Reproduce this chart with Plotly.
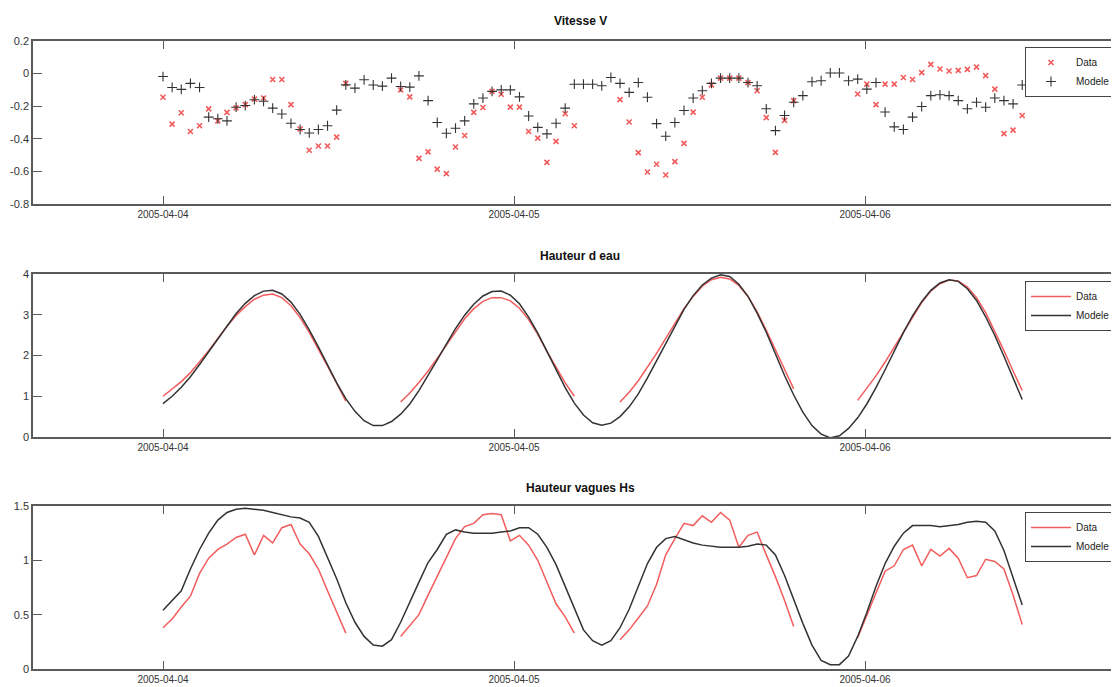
import pandas as pd
import plotly.graph_objects as go

N = None
# sampling grid (95 samples, every 37.5 minutes from 2005-04-04 00:00)
times = pd.date_range("2005-04-04 00:00", periods=95, freq="37min30s")

tick_dates = ["2005-04-04", "2005-04-05", "2005-04-06"]

# ---- Vitesse V ----
v_data = [-0.145, -0.31, -0.24, -0.355, -0.32, -0.216, -0.29, -0.238, -0.21, -0.19,
          -0.157, -0.15, -0.036, -0.036, -0.19, -0.34, -0.47, -0.444, -0.444, -0.39,
          -0.06, N, N, N, N, N, -0.10, -0.143, -0.52, -0.48,
          -0.586, -0.614, -0.45, -0.38, -0.238, -0.208, -0.109, -0.127, -0.206, -0.206,
          -0.355, -0.396, -0.545, -0.416, -0.246, -0.32, N, N, N, N,
          -0.16, -0.297, -0.485, -0.604, -0.556, -0.622, -0.54, -0.428, -0.236, -0.145,
          -0.069, -0.028, -0.028, -0.028, -0.055, -0.105, -0.27, -0.483, -0.287, -0.166,
          N, N, N, N, N, N, -0.125, -0.065, -0.19, -0.065,
          -0.065, -0.024, -0.036, 0.006, 0.057, 0.028, 0.016, 0.02, 0.026, 0.04,
          -0.012, -0.095, -0.368, -0.347, -0.257]
v_model = [-0.018, -0.085, -0.097, -0.06, -0.085, -0.267, -0.277, -0.29, -0.206, -0.196,
           -0.16, -0.17, -0.212, -0.248, -0.305, -0.343, -0.364, -0.343, -0.32, -0.224,
           -0.069, -0.089, -0.038, -0.07, -0.077, -0.028, -0.079, -0.083, -0.014, -0.166,
           -0.30, -0.366, -0.335, -0.29, -0.186, -0.15, -0.109, -0.10, -0.10, -0.143,
           -0.26, -0.33, -0.37, -0.305, -0.212, -0.065, -0.065, -0.065, -0.075, -0.024,
           -0.06, -0.115, -0.055, -0.145, -0.307, -0.384, -0.30, -0.226, -0.15, -0.105,
           -0.06, -0.028, -0.028, -0.028, -0.055, -0.075, -0.216, -0.35, -0.257, -0.176,
           -0.135, -0.05, -0.044, 0.004, 0.004, -0.044, -0.034, -0.095, -0.055, -0.236,
           -0.327, -0.343, -0.267, -0.202, -0.135, -0.13, -0.135, -0.166, -0.216, -0.176,
           -0.206, -0.15, -0.166, -0.186, -0.07]

# ---- Hauteur d eau ----
h_data = [1.0, 1.17, 1.36, 1.58, 1.85, 2.12, 2.42, 2.72, 2.98, 3.2,
          3.38, 3.48, 3.51, 3.42, 3.22, 2.93, 2.57, 2.17, 1.74, 1.32,
          0.88, N, N, N, N, N, 0.86, 1.08, 1.34, 1.62,
          1.93, 2.26, 2.6, 2.9, 3.15, 3.33, 3.42, 3.42, 3.34, 3.16,
          2.88, 2.52, 2.1, 1.7, 1.33, 1.0, N, N, N, N,
          0.86, 1.1, 1.38, 1.7, 2.05, 2.42, 2.8, 3.15, 3.45, 3.7,
          3.86, 3.92, 3.88, 3.72, 3.45, 3.07, 2.62, 2.13, 1.63, 1.18,
          N, N, N, N, N, N, 0.9, 1.2, 1.5, 1.84,
          2.2, 2.58, 2.95, 3.3, 3.58, 3.76, 3.85, 3.83, 3.68, 3.42,
          3.05, 2.6, 2.12, 1.62, 1.14]
h_model = [0.82, 1.0, 1.22, 1.48, 1.78, 2.1, 2.42, 2.74, 3.03, 3.28,
           3.47, 3.58, 3.60, 3.51, 3.31, 3.01, 2.63, 2.21, 1.76, 1.33,
           0.94, 0.63, 0.40, 0.28, 0.28, 0.38, 0.56, 0.81, 1.14, 1.50,
           1.89, 2.28, 2.66, 2.99, 3.26, 3.46, 3.57, 3.58, 3.48, 3.27,
           2.94, 2.55, 2.10, 1.64, 1.21, 0.83, 0.54, 0.35, 0.29, 0.34,
           0.50, 0.74, 1.06, 1.45, 1.87, 2.31, 2.74, 3.13, 3.47, 3.73,
           3.90, 3.98, 3.94, 3.75, 3.45, 3.04, 2.57, 2.04, 1.51, 1.03,
           0.61, 0.28, 0.07, -0.02, 0.03, 0.21, 0.47, 0.81, 1.21, 1.65,
           2.11, 2.56, 2.97, 3.32, 3.60, 3.78, 3.86, 3.82, 3.64, 3.35,
           2.95, 2.49, 1.98, 1.46, 0.92]

# ---- Hauteur vagues Hs ----
hs_data = [0.38, 0.46, 0.57, 0.67, 0.88, 1.02, 1.10, 1.15, 1.21, 1.24,
           1.05, 1.23, 1.16, 1.30, 1.33, 1.15, 1.06, 0.92, 0.72, 0.52,
           0.33, N, N, N, N, N, 0.30, 0.40, 0.50, 0.68,
           0.85, 1.03, 1.20, 1.31, 1.34, 1.42, 1.43, 1.42, 1.18, 1.23,
           1.14, 1.00, 0.80, 0.60, 0.48, 0.33, N, N, N, N,
           0.27, 0.36, 0.47, 0.58, 0.78, 1.05, 1.20, 1.34, 1.32, 1.41,
           1.35, 1.44, 1.37, 1.12, 1.23, 1.26, 1.05, 0.85, 0.63, 0.39,
           N, N, N, N, N, N, 0.29, 0.50, 0.70, 0.90,
           0.95, 1.10, 1.14, 0.95, 1.10, 1.04, 1.11, 1.02, 0.84, 0.86,
           1.01, 0.99, 0.92, 0.68, 0.41]
hs_model = [0.54, 0.63, 0.72, 0.92, 1.10, 1.25, 1.37, 1.44, 1.47, 1.48,
            1.47, 1.46, 1.44, 1.42, 1.40, 1.39, 1.35, 1.22, 1.03, 0.83,
            0.61, 0.43, 0.30, 0.22, 0.21, 0.27, 0.43, 0.62, 0.80, 0.98,
            1.10, 1.24, 1.28, 1.26, 1.25, 1.25, 1.25, 1.26, 1.27, 1.30,
            1.30, 1.24, 1.12, 0.96, 0.76, 0.55, 0.36, 0.26, 0.22, 0.26,
            0.38, 0.55, 0.76, 0.97, 1.12, 1.20, 1.22, 1.19, 1.16, 1.14,
            1.13, 1.12, 1.12, 1.12, 1.13, 1.15, 1.14, 1.05, 0.86, 0.63,
            0.42, 0.22, 0.08, 0.04, 0.04, 0.12, 0.30, 0.52, 0.76, 0.97,
            1.13, 1.25, 1.32, 1.32, 1.32, 1.31, 1.32, 1.33, 1.35, 1.36,
            1.35, 1.27, 1.09, 0.85, 0.59]

v_ticks = [-0.8, -0.6, -0.4, -0.2, 0, 0.2]
v_ticktext = ["-0.8", "-0.6", "-0.4", "-0.2", "0", "0.2"]
h_ticks = [0, 1, 2, 3, 4]
hs_ticks = [0, 0.5, 1, 1.5]

RED = "#f25c5c"
BLACK = "#333333"
AX = "#5a5a5a"
W, H = 1119, 687
OFF = 8            # page body margin: figure sits 8 px right/down in the window
L = 33 - OFF       # left edge of plot area (window x = 33)
R = 1126 - OFF     # right edge of plot area (window x = 1126)
PW = R - L

fig = go.Figure()
fig.add_trace(go.Scatter(x=times, y=v_data, mode="markers", name="Data",
                         marker=dict(symbol="x-thin", size=5, color=RED,
                                     line=dict(width=1.6, color=RED)),
                         xaxis="x", yaxis="y", legend="legend"))
fig.add_trace(go.Scatter(x=times, y=v_model, mode="markers", name="Modele",
                         marker=dict(symbol="cross-thin", size=7, color=BLACK,
                                     line=dict(width=1.1, color=BLACK)),
                         xaxis="x", yaxis="y", legend="legend"))
fig.add_trace(go.Scatter(x=times, y=h_data, mode="lines", name="Data",
                         line=dict(color=RED, width=1.5),
                         xaxis="x2", yaxis="y2", legend="legend2"))
fig.add_trace(go.Scatter(x=times, y=h_model, mode="lines", name="Modele",
                         line=dict(color=BLACK, width=1.5),
                         xaxis="x2", yaxis="y2", legend="legend2"))
fig.add_trace(go.Scatter(x=times, y=hs_data, mode="lines", name="Data",
                         line=dict(color=RED, width=1.5),
                         xaxis="x3", yaxis="y3", legend="legend3"))
fig.add_trace(go.Scatter(x=times, y=hs_model, mode="lines", name="Modele",
                         line=dict(color=BLACK, width=1.5),
                         xaxis="x3", yaxis="y3", legend="legend3"))

x_range = ["2005-04-03 15:06:40", "2005-04-06 17:50:46"]


def xax(anchor):
    return dict(type="date", range=x_range, domain=[0, 1], anchor=anchor,
                tickvals=tick_dates, ticktext=tick_dates,
                ticks="inside", ticklen=8, tickcolor=AX, tickwidth=1,
                showline=True, linecolor=AX, linewidth=1.5, mirror="ticks",
                showgrid=False, zeroline=False, automargin=False,
                tickfont=dict(size=10, color="#333"))


def yax(anchor, top_px, bot_px, rng, tv, tt):
    top_px -= OFF
    bot_px -= OFF
    return dict(domain=[1 - bot_px / H, 1 - top_px / H], anchor=anchor, range=rng,
                tickvals=tv, ticktext=tt,
                ticks="inside", ticklen=9, tickcolor=AX, tickwidth=1,
                showline=True, linecolor=AX, linewidth=1.5, mirror="ticks",
                showgrid=False, zeroline=False, automargin=False,
                tickfont=dict(size=11, color="#333"))


def leg(top_px):
    return dict(x=(1025 - OFF - L) / PW, y=1 - (top_px - OFF) / H,
                xanchor="left", yanchor="top",
                bordercolor="#444", borderwidth=1, bgcolor="white",
                font=dict(size=10, color="#222", family="Liberation Sans"),
                itemwidth=40, tracegroupgap=0)


def title(text, y_px):
    return dict(text="<b>%s</b>" % text, x=(580 - OFF - L) / PW, y=1 - (y_px - OFF) / H,
                xref="paper", yref="paper", showarrow=False,
                xanchor="center", yanchor="middle",
                font=dict(size=12, color="#111", family="Liberation Sans"))


fig.update_layout(
    width=W, height=H,
    margin=dict(l=L, r=W - R, t=0, b=0),
    paper_bgcolor="white", plot_bgcolor="white",
    font=dict(family="Liberation Sans", color="#333"),
    xaxis=xax("y"), xaxis2=xax("y2"), xaxis3=xax("y3"),
    yaxis=yax("x", 41, 204, [-0.8, 0.2], v_ticks, v_ticktext),
    yaxis2=yax("x2", 274, 437, [0, 4], h_ticks, [str(t) for t in h_ticks]),
    yaxis3=yax("x3", 506, 669, [0, 1.5], hs_ticks, ["0", "0.5", "1", "1.5"]),
    legend=leg(47), legend2=leg(281), legend3=leg(512),
    annotations=[title("Vitesse V", 21), title("Hauteur d eau", 256),
                 title("Hauteur vagues Hs", 488)],
    showlegend=True,
)

fig.write_html("out.html")
